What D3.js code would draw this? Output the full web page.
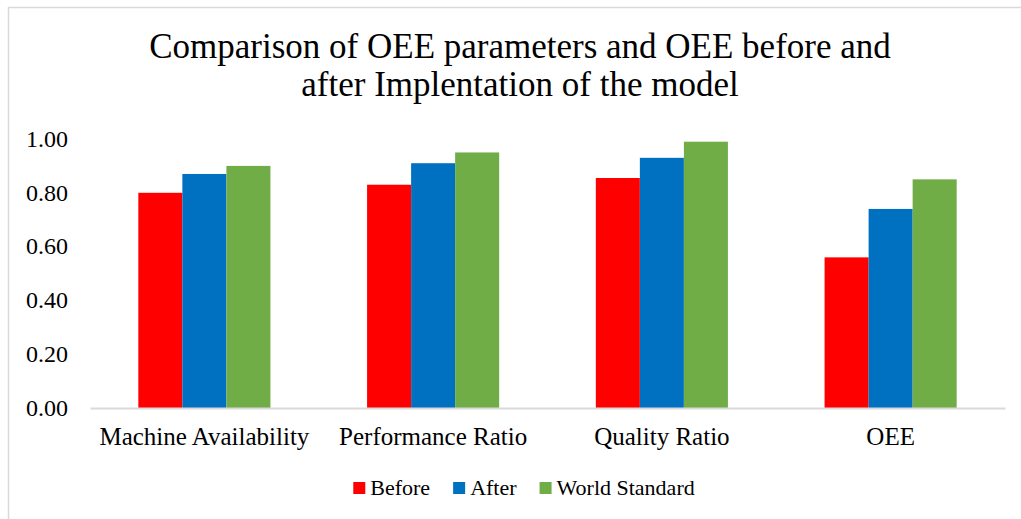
<!DOCTYPE html>
<html>
<head>
<meta charset="utf-8">
<script src="https://cdn.jsdelivr.net/npm/d3@7"></script>
<style>
  body { margin: 0; background: #fff; }
  text { font-family: "Liberation Serif", "Times New Roman", serif; fill: #000; }
</style>
</head>
<body>
<div id="chart"></div>
<script>
// categories and series
var categories = ["Machine Availability", "Performance Ratio", "Quality Ratio", "OEE"];
var seriesNames = ["Before", "After", "World Standard"];
var before = [0.80, 0.83, 0.855, 0.56];
var after = [0.87, 0.91, 0.93, 0.74];
var worldStandard = [0.90, 0.95, 0.99, 0.85];
var yTicks = [0, 0.2, 0.4, 0.6, 0.8, 1.0];
var colors = ["#FF0000", "#0070C0", "#70AD47"];

var width = 1021;
var height = 519;
var plotLeft = 90, plotRight = 1005, plotTop = 139, plotBottom = 408;

var svg = d3.select("#chart")
    .append("svg")
    .attr("width", width)
    .attr("height", height);

// chart area border (only top and left edges show in the picture)
svg.append("rect")
    .attr("x", 8.5)
    .attr("y", 7.5)
    .attr("width", width + 20)
    .attr("height", height + 20)
    .attr("fill", "none")
    .attr("stroke", "#d9d9d9")
    .attr("stroke-width", 1.5);

// title, two lines
var titleLines = ["Comparison of OEE parameters and OEE before and", "after Implentation of the model"];
svg.append("text")
    .attr("x", 520)
    .attr("y", 58)
    .style("text-anchor", "middle")
    .style("font-size", "35px")
    .selectAll("tspan")
    .data(titleLines)
    .enter().append("tspan")
    .attr("x", 520)
    .attr("dy", function(d, i) { return i == 0 ? 0 : 38; })
    .text(function(d) { return d; });

// scales
var x0 = d3.scaleBand()
    .domain(categories)
    .range([plotLeft, plotRight])
    .paddingInner(0.4225)
    .paddingOuter(0.21125);

var x1 = d3.scaleBand()
    .domain(seriesNames)
    .range([0, x0.bandwidth()]);

var y = d3.scaleLinear()
    .domain([0, 1])
    .range([plotBottom, plotTop]);

// y axis labels, no line
var yAxis = svg.append("g")
    .attr("transform", "translate(" + 68 + ",0)")
    .call(d3.axisLeft(y).tickValues(yTicks).tickFormat(d3.format(".2f")).tickSize(0).tickPadding(0));
yAxis.select(".domain").remove();
yAxis.selectAll("text")
    .style("font-size", "24px")
    .style("font-family", "'Liberation Serif', serif")
    .attr("dy", "0.3em");

// bars
var seriesData = [before, after, worldStandard];
var groups = svg.selectAll(".series")
    .data(seriesData)
    .enter().append("g")
    .attr("class", "series")
    .attr("fill", function(d, i) { return colors[i]; });

groups.selectAll("rect")
    .data(function(d, i) { return d.map(function(v, j) { return { s: seriesNames[i], c: categories[j], v: v }; }); })
    .enter().append("rect")
    .attr("x", function(d) { return x0(d.c) + x1(d.s); })
    .attr("y", function(d) { return y(d.v); })
    .attr("width", x1.bandwidth())
    .attr("height", function(d) { return y(0) - y(d.v); });

// x axis baseline and category labels
var xAxis = svg.append("g")
    .attr("transform", "translate(0," + plotBottom + ")")
    .call(d3.axisBottom(x0).tickSize(0).tickPadding(0).tickSizeOuter(0));
xAxis.select(".domain")
    .attr("stroke", "#d9d9d9")
    .attr("stroke-width", 2);
xAxis.selectAll("text")
    .style("font-size", "25px")
    .style("font-family", "'Liberation Serif', serif")
    .attr("y", 37)
    .attr("dy", 0);

// legend
var legend = svg.append("g");
var lx = 0;
seriesNames.forEach(function(name, i) {
    var item = legend.append("g").attr("transform", "translate(" + lx + ",0)");
    item.append("rect")
        .attr("x", 0)
        .attr("y", 482)
        .attr("width", 12)
        .attr("height", 12)
        .attr("fill", colors[i]);
    var t = item.append("text")
        .attr("x", 17)
        .attr("y", 495)
        .style("font-size", "22px")
        .text(name);
    lx += 17 + t.node().getComputedTextLength() + 23;
});
var legendWidth = lx - 23;
legend.attr("transform", "translate(" + (524 - legendWidth / 2) + ",0)");
</script>
</body>
</html>
